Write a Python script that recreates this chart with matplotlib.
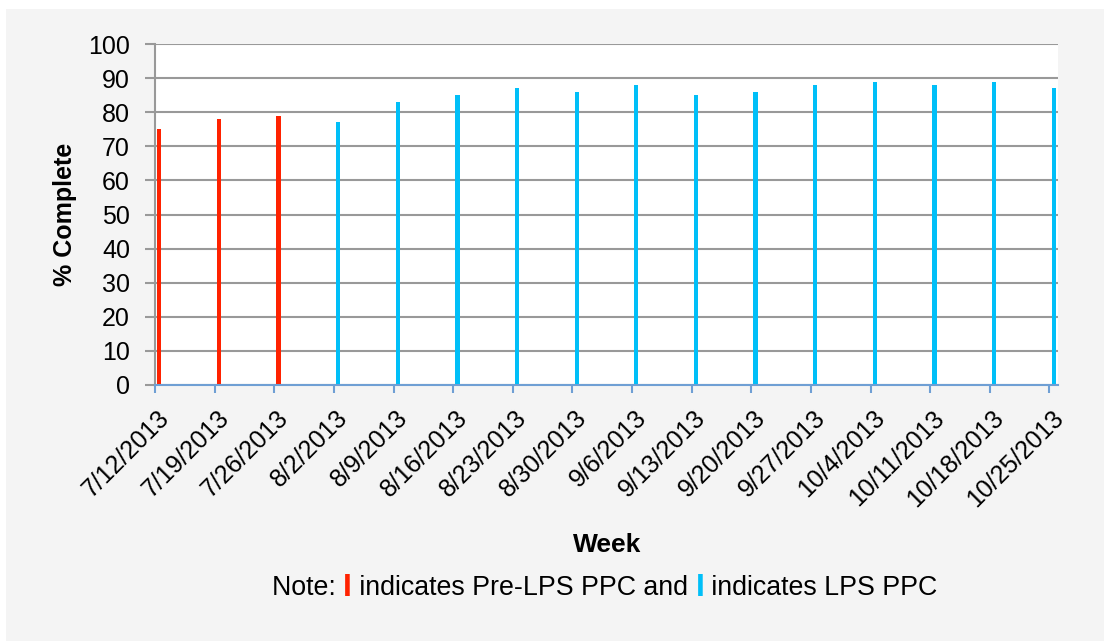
import numpy as np
import matplotlib.pyplot as plt
from matplotlib.patches import Rectangle
from matplotlib.transforms import ScaledTranslation

plt.rcParams['font.family'] = ['Liberation Sans', 'DejaVu Sans']

# --- Data ---
weeks = ['7/12/2013', '7/19/2013', '7/26/2013', '8/2/2013', '8/9/2013',
         '8/16/2013', '8/23/2013', '8/30/2013', '9/6/2013', '9/13/2013',
         '9/20/2013', '9/27/2013', '10/4/2013', '10/11/2013', '10/18/2013',
         '10/25/2013']
pct_complete = [75, 78, 79, 77, 83, 85, 87, 86, 88, 85, 86, 88, 89, 88, 89, 87]
phase = ['Pre-LPS', 'Pre-LPS', 'Pre-LPS'] + ['LPS'] * 13

RED = '#ff2200'
BLUE = '#00bff8'
colors = [RED if p == 'Pre-LPS' else BLUE for p in phase]

# date axis: days since first week
days = np.arange(len(weeks)) * 7

W, H = 1104, 641
fig = plt.figure(figsize=(W / 100, H / 100), dpi=100, facecolor='white')
fig.patches.append(Rectangle((6 / W, 0), 1, 1 - 9 / H, transform=fig.transFigure,
                             facecolor='#f4f4f4', edgecolor='none', zorder=-1))

ax = fig.add_axes([155 / W, 1 - 385 / H, (1058 - 155) / W, (385 - 44) / H])
ax.set_facecolor('white')

ax.bar(days + 0.5, pct_complete, width=0.5, color=colors, align='center', zorder=3)

ax.set_xlim(0, 106)
ax.set_ylim(0, 100)
ax.set_yticks(np.arange(0, 101, 10))
ax.set_xticks(days)
ax.set_xticklabels(weeks, rotation=45, ha='right', rotation_mode='anchor')

ax.yaxis.grid(True, color='#999999', linewidth=1.5, zorder=0)
ax.set_axisbelow(True)

for side in ['top', 'right']:
    ax.spines[side].set_visible(False)
ax.spines['left'].set_color('#999999')
ax.spines['left'].set_linewidth(1.5)
ax.spines['bottom'].set_color('#6f9fd4')
ax.spines['bottom'].set_linewidth(1.5)
ax.spines['bottom'].set_zorder(4)

ax.tick_params(axis='y', colors='#999999', labelcolor='black', length=7, width=1.5,
               labelsize=18, pad=11)
ax.tick_params(axis='x', colors='#6f9fd4', labelcolor='black', length=6, width=1.5,
               labelsize=18, pad=9)
for lbl in ax.get_xticklabels():
    lbl.set_transform(lbl.get_transform() + ScaledTranslation(2 / 100, 0, fig.dpi_scale_trans))

ax.set_ylabel('% Complete', fontsize=18, fontweight='bold')
ax.yaxis.set_label_coords((77 - 155) / (1058 - 155), 0.5)
fig.text(607 / W, 1 - 545 / H, 'Week', fontsize=19, fontweight='bold',
         ha='center', va='center')

# --- Note line with coloured markers ---
pieces = [('Note: ', 'black', 'normal'), ('I', RED, 'bold'),
          (' indicates Pre-LPS PPC and ', 'black', 'normal'), ('I', BLUE, 'bold'),
          (' indicates LPS PPC', 'black', 'normal')]
prev = fig.text(272 / W, 1 - 588 / H, pieces[0][0], fontsize=19.3, color=pieces[0][1],
                ha='left', va='center')
for txt, col, wt in pieces[1:]:
    prev = ax.annotate(txt, xy=(1, 0.5), xycoords=prev, ha='left', va='center',
                       fontsize=19.3 if wt == 'normal' else 23, color=col, fontweight=wt,
                       annotation_clip=False)

fig.savefig('out.png', dpi=100, facecolor=fig.get_facecolor())
